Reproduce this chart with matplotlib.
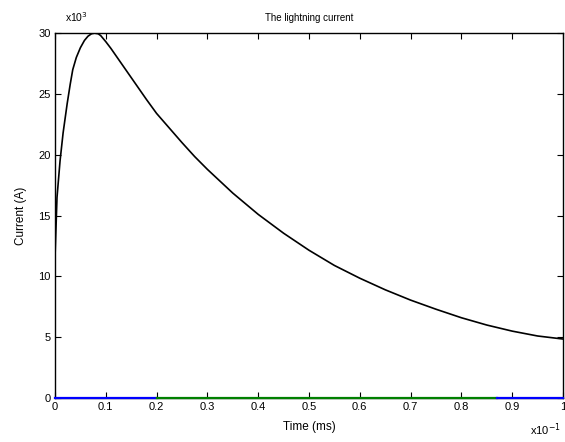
import matplotlib.pyplot as plt

# values (time in x10^-1 ms, current in x10^3 A)
time = [0, 0.004, 0.01, 0.016, 0.024, 0.03, 0.035, 0.042, 0.05, 0.058,
        0.065, 0.072, 0.078, 0.085, 0.09, 0.1, 0.11, 0.12, 0.14, 0.16,
        0.18, 0.2, 0.225, 0.25, 0.275, 0.3, 0.35, 0.4, 0.45, 0.5,
        0.55, 0.6, 0.65, 0.7, 0.75, 0.8, 0.85, 0.9, 0.95, 1.0]
current = [11.5, 16.5, 19.5, 21.8, 24.2, 25.8, 27.0, 28.0, 28.8, 29.4,
           29.75, 29.95, 30.0, 29.95, 29.8, 29.3, 28.75, 28.15, 26.95, 25.75,
           24.55, 23.4, 22.2, 21.0, 19.85, 18.8, 16.85, 15.1, 13.55, 12.15,
           10.9, 9.85, 8.9, 8.05, 7.3, 6.6, 6.0, 5.5, 5.1, 4.85]

# flat segments drawn along zero
blue_a_t = [0, 0.2]
green_t = [0.2, 0.87]
blue_b_t = [0.87, 1.0]
zero_line = [0, 0]

x_ticks = [0, 0.1, 0.2, 0.3, 0.4, 0.5, 0.6, 0.7, 0.8, 0.9, 1]
x_tick_labels = ["0", "0.1", "0.2", "0.3", "0.4", "0.5", "0.6", "0.7", "0.8", "0.9", "1"]
y_ticks = [0, 5, 10, 15, 20, 25, 30]

plt.rcParams["font.family"] = ["Liberation Sans", "DejaVu Sans"]

fig = plt.figure(figsize=(5.65, 4.42), dpi=100)
ax = fig.add_axes([0.0973, 0.0995, 0.8992, 0.8255])

ax.plot(time, current, color="black", linewidth=1.2)
ax.plot(blue_a_t, zero_line, color="#0000ff", linewidth=1.6, clip_on=False, zorder=3)
ax.plot(green_t, zero_line, color="#008000", linewidth=1.6, clip_on=False, zorder=3)
ax.plot(blue_b_t, zero_line, color="#0000ff", linewidth=1.6, clip_on=False, zorder=3)

ax.set_xlim(0, 1)
ax.set_ylim(0, 30)
ax.set_xticks(x_ticks)
ax.set_xticklabels(x_tick_labels)
ax.set_yticks(y_ticks)
ax.tick_params(direction="in", top=True, right=True, length=4, width=0.8,
               labelsize=8, pad=3)
for s in ax.spines.values():
    s.set_linewidth(1.0)

ax.set_title("The lightning current", fontsize=7, pad=9)
ax.set_xlabel("Time (ms)", fontsize=8.5, labelpad=6)
ax.set_ylabel("Current (A)", fontsize=8.5, labelpad=8)

ax.text(0.02, 1.025, r"x10$^{3}$", transform=ax.transAxes, fontsize=7.5,
        ha="left", va="bottom")
ax.text(0.995, -0.065, r"x10$^{-1}$", transform=ax.transAxes, fontsize=8,
        ha="right", va="top")

fig.savefig("out.png", dpi=100)
